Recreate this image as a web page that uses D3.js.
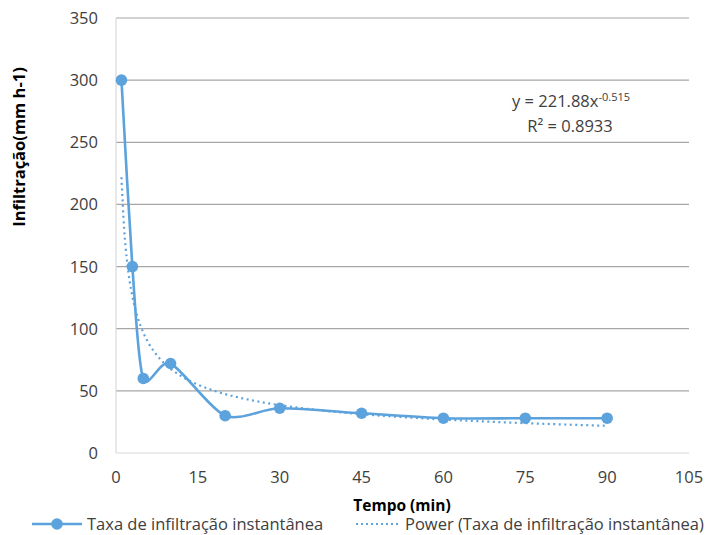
<!DOCTYPE html>
<html><head><meta charset="utf-8">
<script src="https://cdn.jsdelivr.net/npm/d3@7"></script>
<style>body{margin:0;background:#fff;} text{font-family:"Open Sans",Lato,sans-serif;fill:#404040;}</style>
</head><body>
<svg id="c" width="712" height="535"></svg>
<script>
const tempo = [1, 3, 5, 10, 20, 30, 45, 60, 75, 90];
const taxa = [300, 150, 60, 72, 30, 36, 32, 28, 28, 28];
const xTicks = [0, 15, 30, 45, 60, 75, 90, 105];
const yTicks = [0, 50, 100, 150, 200, 250, 300, 350];
const fitA = 221.88, fitB = -0.515;
const fitX = [1,1.5,2,2.5,3,4,5,6,7,8,10,12,15,18,21,25,30,35,40,45,50,55,60,65,70,75,80,85,90];

const svg = d3.select("#c");
const m = {l:116, r:689, t:18, b:453};
const x = d3.scaleLinear().domain([0,105]).range([m.l,m.r]);
const y = d3.scaleLinear().domain([0,350]).range([m.b,m.t]);
const blue = "#5ca2dc";

svg.append("g").selectAll("line").data(yTicks.filter(d=>d>0)).join("line")
  .attr("x1",m.l).attr("x2",m.r).attr("y1",d=>y(d)).attr("y2",d=>y(d))
  .attr("stroke","#a6a6a6").attr("stroke-width",1.2);
svg.append("line").attr("x1",m.l).attr("x2",m.l).attr("y1",m.t).attr("y2",m.b).attr("stroke","#d9d9d9").attr("stroke-width",1.2);
svg.append("line").attr("x1",m.l).attr("x2",m.r).attr("y1",m.b).attr("y2",m.b).attr("stroke","#d9d9d9").attr("stroke-width",1.2);

svg.append("g").selectAll("text").data(yTicks).join("text")
  .attr("x",m.l-18).attr("y",d=>y(d)+6).attr("text-anchor","end")
  .attr("font-size",16.5).text(d=>d);
svg.append("g").selectAll("text").data(xTicks).join("text")
  .attr("x",d=>x(d)).attr("y",m.b+30).attr("text-anchor","middle")
  .attr("font-size",16.5).text(d=>d);

svg.append("text").attr("x",402).attr("y",511).attr("text-anchor","middle")
  .attr("font-size",15.5).attr("font-weight","bold").style("fill","#000").text("Tempo (min)");
svg.append("text").attr("transform","translate(25,147) rotate(-90)").attr("text-anchor","middle")
  .attr("font-size",16.5).attr("font-weight","bold").style("fill","#000").text("Infiltração(mm h-1)");

const fitY = fitX.map(v=>fitA*Math.pow(v,fitB));
svg.append("path").datum(fitX.map((v,i)=>[v,fitY[i]]))
  .attr("d",d3.line().x(d=>x(d[0])).y(d=>y(d[1])).curve(d3.curveMonotoneX))
  .attr("fill","none").attr("stroke",blue).attr("stroke-width",2.2).attr("stroke-dasharray","2 3.5");

svg.append("path").datum(tempo.map((v,i)=>[v,taxa[i]]))
  .attr("d",d3.line().x(d=>x(d[0])).y(d=>y(d[1])).curve(d3.curveCardinal.tension(0.2)))
  .attr("fill","none").attr("stroke",blue).attr("stroke-width",2.6);
svg.append("g").selectAll("circle").data(tempo).join("circle")
  .attr("cx",d=>x(d)).attr("cy",(d,i)=>y(taxa[i])).attr("r",5.8).attr("fill",blue);

const eq = svg.append("text").attr("x",571).attr("y",107).attr("text-anchor","middle").attr("font-size",16.5);
eq.append("tspan").text("y = 221.88x");
eq.append("tspan").attr("font-size",11).attr("dy",-6).text("-0.515");
svg.append("text").attr("x",570).attr("y",132).attr("text-anchor","middle").attr("font-size",16.5).text("R² = 0.8933");

svg.append("line").attr("x1",32).attr("x2",82).attr("y1",524).attr("y2",524).attr("stroke",blue).attr("stroke-width",2.6);
svg.append("circle").attr("cx",57).attr("cy",524).attr("r",5.8).attr("fill",blue);
svg.append("text").attr("x",87).attr("y",530).attr("font-size",16.5).text("Taxa de infiltração instantânea");
svg.append("line").attr("x1",356).attr("x2",400).attr("y1",524).attr("y2",524).attr("stroke",blue).attr("stroke-width",2).attr("stroke-dasharray","2 3");
svg.append("text").attr("x",405).attr("y",530).attr("font-size",16.5).text("Power (Taxa de infiltração instantânea)");
</script>
</body></html>
